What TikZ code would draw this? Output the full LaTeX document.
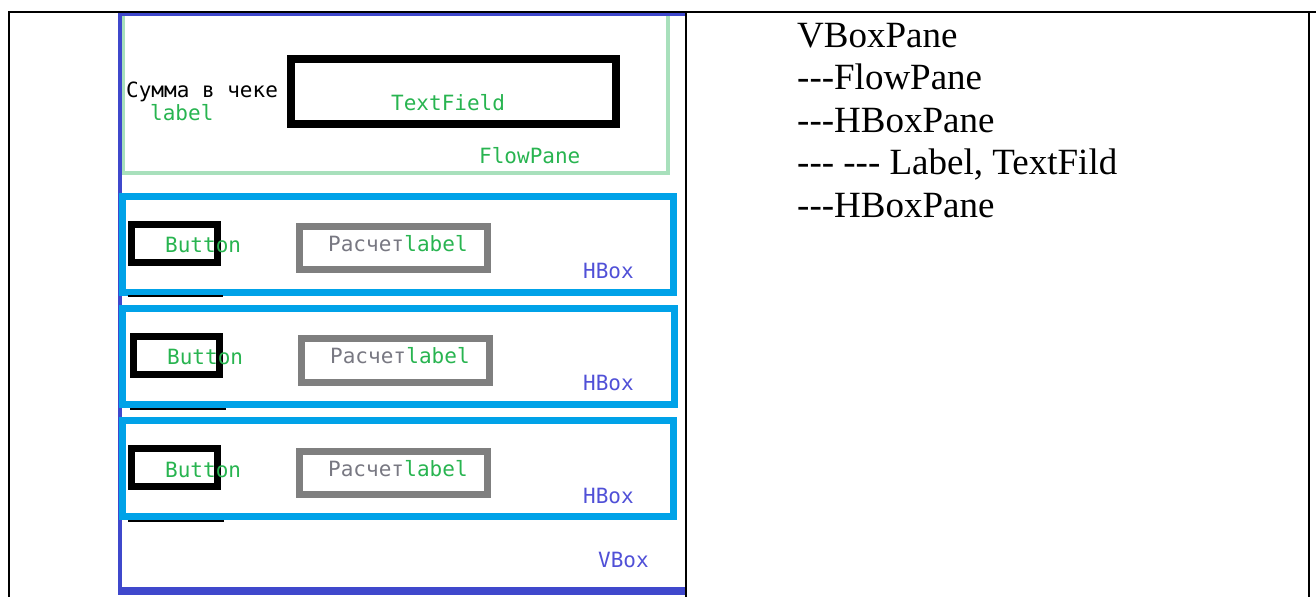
\documentclass[tikz,border=0pt]{standalone}
\usepackage{fontspec}
\newfontfamily\serf{Liberation Serif}
\newfontfamily\monof{DejaVu Sans Mono}
\definecolor{vboxblue}{RGB}{63,72,204}
\definecolor{hboxcyan}{RGB}{0,162,232}
\definecolor{txtgreen}{RGB}{40,180,80}
\definecolor{flowgreen}{RGB}{168,224,188}
\definecolor{txtblue}{RGB}{80,80,215}
\definecolor{boxgray}{RGB}{127,127,127}
\definecolor{txtgray}{RGB}{120,120,130}
\tikzset{
  tbl/.style={draw=black, line width=2.5pt},
  vboxline/.style={draw=vboxblue},
  flowline/.style={draw=flowgreen, line width=4pt},
  hboxrect/.style={draw=hboxcyan, line width=7pt},
  btnrect/.style={draw=black, line width=7pt},
  lblrect/.style={draw=boxgray, line width=7pt},
  tfrect/.style={draw=black, line width=8pt},
  underline/.style={draw=black, line width=2pt},
  mtxt/.style={inner sep=0pt, anchor=base west, font=\monof\fontsize{21}{24}\selectfont},
  gtxt/.style={mtxt, text=txtgreen},
  btxt/.style={mtxt, text=txtblue},
  rtxt/.style={inner sep=0pt, anchor=base west, font=\serf\fontsize{37}{40}\selectfont},
}
\begin{document}
\begin{tikzpicture}[x=1pt,y=-1pt]
\useasboundingbox (0,0) rectangle (1316,597);
% table frame
\draw[tbl] (8,12) -- (1316,12);
\draw[tbl] (9,12) -- (9,597);
\draw[tbl] (686,12) -- (686,597);
\draw[tbl] (1309,12) -- (1309,597);
% FlowPane
\draw[flowline] (123,14) -- (123,173) -- (668,173) -- (668,14);
% VBox
\draw[vboxline, line width=3pt] (118,14) -- (685,14);
\draw[vboxline, line width=4pt] (120,13) -- (120,595);
\draw[vboxline, line width=8pt] (118,591) -- (685,591);
% TextField
\draw[tfrect] (291,59) rectangle (616,124);
\node[mtxt] (summa) at (126,97) {Сумма в чеке};
\node[gtxt] (lbl0) at (150,120) {label};
\node[gtxt] (tf) at (391,110) {TextField};
\node[gtxt] (flow) at (479,163) {FlowPane};
% HBox 1
\draw[hboxrect] (122,196) rectangle (673,292);
\draw[btnrect] (131.5,224.5) rectangle (217.5,262.5);
\draw[lblrect] (299,226) rectangle (487,269);
\node[gtxt] (b1) at (165,252) {Button};
\node[mtxt, text=txtgray] (r1) at (328,251) {Расчет};
\node[gtxt, anchor=base west] (l1) at (r1.base east) {label};
\node[btxt] (h1) at (583,278) {HBox};
\draw[underline] (128,296) -- (223,296);
% HBox 2
\draw[hboxrect] (122,308) rectangle (674,404);
\draw[btnrect] (133.5,336.5) rectangle (219.5,374.5);
\draw[lblrect] (301,338) rectangle (489,382);
\node[gtxt] (b2) at (167,364) {Button};
\node[mtxt, text=txtgray] (r2) at (330,363) {Расчет};
\node[gtxt, anchor=base west] (l2) at (r2.base east) {label};
\node[btxt] (h2) at (583,390) {HBox};
\draw[underline] (130,409) -- (226,409);
% HBox 3
\draw[hboxrect] (122,420) rectangle (673,516);
\draw[btnrect] (131.5,448.5) rectangle (217.5,486.5);
\draw[lblrect] (299,451) rectangle (487,494);
\node[gtxt] (b3) at (165,477) {Button};
\node[mtxt, text=txtgray] (r3) at (328,476) {Расчет};
\node[gtxt, anchor=base west] (l3) at (r3.base east) {label};
\node[btxt] (h3) at (583,503) {HBox};
\draw[underline] (128,521) -- (224,521);
% VBox label
\node[btxt] (vb) at (598,567) {VBox};
% right column
\node[rtxt] (t1) at (797,47) {VBoxPane};
\node[rtxt] (t2) at (797,89.5) {---FlowPane};
\node[rtxt] (t3) at (797,132) {---HBoxPane};
\node[rtxt] (t4) at (797,174.5) {--- --- Label, TextFild};
\node[rtxt] (t5) at (797,217) {---HBoxPane};
\end{tikzpicture}
\end{document}
